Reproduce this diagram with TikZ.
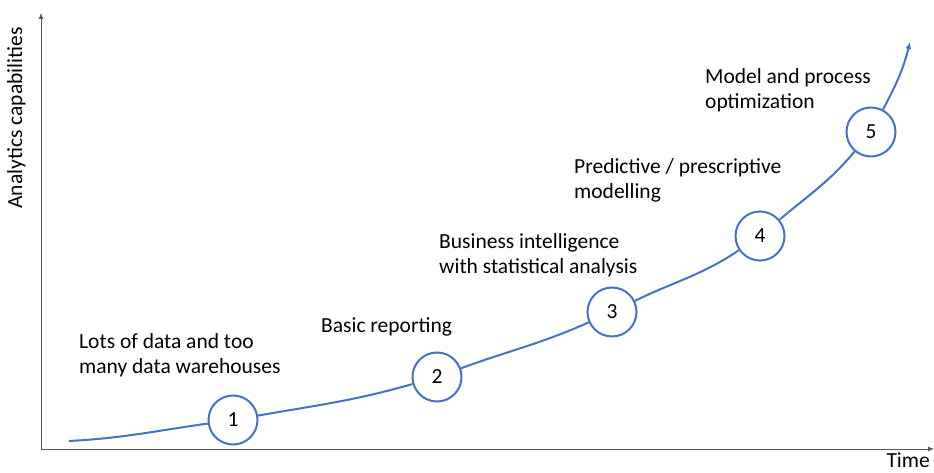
\documentclass[tikz,border=0pt]{standalone}
\usepackage{fontspec}
\setmainfont{Carlito}
\usetikzlibrary{arrows.meta}
\definecolor{stageblue}{HTML}{4472C4}
\definecolor{axisgray}{HTML}{595959}
\tikzset{
  stage/.style={circle,draw=stageblue,line width=2pt,fill=white,
                minimum size=49pt,inner sep=0pt},
  note/.style={anchor=north west,align=left,inner sep=0pt},
  growth/.style={draw=stageblue,line width=2pt}
}
\begin{document}
\begin{tikzpicture}[x=1pt,y=1pt,
    font=\fontsize{21.5}{25.5}\selectfont]
  \useasboundingbox (0,0) rectangle (934,473);
  % axes
  \coordinate (o) at (41,24);
  \coordinate (ytop) at (41,460);
  \coordinate (xend) at (934,24);
  \draw[axisgray,line width=0.8pt,-{Latex[length=6pt,width=5pt]}] (o) -- (ytop);
  \draw[axisgray,line width=0.8pt,-{Latex[length=6pt,width=5pt]}] (o) -- (xend);
  \node[rotate=90,anchor=south] (ylab) at (29,355) {Analytics capabilities};
  \node[anchor=base east,inner sep=0pt] (xlab) at (930,5) {Time};
  % stages
  \coordinate (s0) at (69,32);
  \node[stage] (s1) at (233,53) {1};
  \node[stage] (s2) at (437,96) {2};
  \node[stage] (s3) at (612,161) {3};
  \node[stage] (s4) at (760,237) {4};
  \node[stage] (s5) at (871,341) {5};
  \coordinate (s6) at (910,431);
  \draw[growth] (s0) to[out=3,in=188] (s1);
  \draw[growth] (s1) to[out=10,in=196] (s2);
  \draw[growth] (s2) to[out=20,in=204] (s3);
  \draw[growth] (s3) to[out=26,in=214] (s4);
  \draw[growth] (s4) to[out=40,in=230] (s5);
  \draw[growth,-{Latex[length=7pt,width=6pt]}] (s5) to[out=62,in=256] (s6);
  % labels
  \node[note] (n1) at (79,140) {Lots of data and too\\many data warehouses};
  \node[note] (n2) at (321,156) {Basic reporting};
  \node[note] (n3) at (439,240) {Business intelligence\\with statistical analysis};
  \node[note] (n4) at (574,315) {Predictive / prescriptive\\modelling};
  \node[note] (n5) at (705,405) {Model and process\\optimization};
\end{tikzpicture}
\end{document}
